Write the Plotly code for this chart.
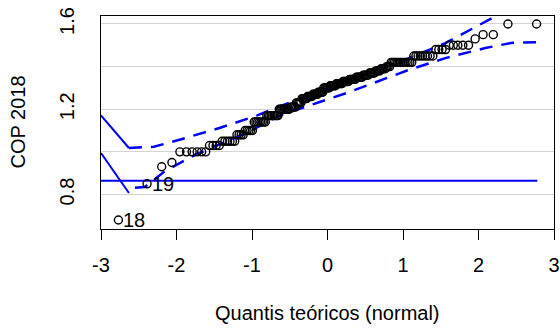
import plotly.graph_objects as go
from statistics import NormalDist

cop_2018 = (
    [0.68, 0.85, 0.93, 0.95]
    + [1.00] * 6 + [1.03] * 4 + [1.05] * 6 + [1.08] * 4 + [1.10] * 5
    + [1.14] * 8 + [1.17] * 9 + [1.20] * 9
    + [1.21] * 5 + [1.23] * 5 + [1.25] * 5
    + [1.26] * 5 + [1.27] * 5 + [1.28] * 5 + [1.30] * 6
    + [1.31] * 6 + [1.32] * 6 + [1.33] * 6 + [1.34] * 6 + [1.35] * 6
    + [1.36] * 5 + [1.37] * 5 + [1.38] * 4 + [1.39] * 4 + [1.40] * 3
    + [1.42] * 13 + [1.45] * 9 + [1.48] * 4 + [1.50] * 5
    + [1.53, 1.55, 1.55, 1.60, 1.60]
)

# Labelled observations (rank in sorted order, label)
outlier_ranks = [0, 1]
outlier_labels = ["18", "19"]

# Envelope (dashed)
env_upper_q = [-2.63, -2.30, -1.96, -1.43, -0.93, -0.60, 0.30, 1.08, 1.56, 2.09, 2.77]
env_upper_y = [1.018, 1.024, 1.057, 1.112, 1.171, 1.218, 1.335, 1.44, 1.51, 1.61, 1.74]
env_lower_q = [-2.55, -2.42, -2.16, -1.80, -1.50, -1.07, -0.64, 0.25, 1.08, 1.56, 2.09, 2.43, 2.77]
env_lower_y = [0.832, 0.835, 0.908, 0.978, 1.025, 1.088, 1.17, 1.276, 1.385, 1.44, 1.487, 1.511, 1.515]

# Solid segments
seg1_q = [-3.0, -2.63]
seg1_y = [1.171, 1.018]
seg2_q = [-3.0, -2.63]
seg2_y = [0.994, 0.807]
hline_q = [-3.0, 2.78]
hline_y = [0.864, 0.864]

x_ticks = [-3, -2, -1, 0, 1, 2, 3]
y_ticks = [0.8, 1.0, 1.2, 1.4, 1.6]
y_ticktext = ["0.8", "", "1.2", "", "1.6"]

n = len(cop_2018)
nd = NormalDist()
theo = [nd.inv_cdf((i + 0.5) / n) for i in range(n)]

FONT = "Liberation Sans, Arial, sans-serif"
BLUE = "#0000FF"
FS = 20

fig = go.Figure()
line_style = dict(color=BLUE, width=2)
for q, y in [(seg1_q, seg1_y), (seg2_q, seg2_y), (hline_q, hline_y)]:
    fig.add_trace(go.Scatter(x=q, y=y, mode="lines", line=line_style, hoverinfo="skip"))
for q, y in [(env_upper_q, env_upper_y), (env_lower_q, env_lower_y)]:
    fig.add_trace(go.Scatter(x=q, y=y, mode="lines",
                             line=dict(color=BLUE, width=2.5, dash="13px,9px"),
                             hoverinfo="skip"))
fig.add_trace(go.Scatter(
    x=theo, y=cop_2018, mode="markers",
    marker=dict(symbol="circle-open", size=8, color="black", line=dict(width=1.4, color="black")),
))

for r, lab in zip(outlier_ranks, outlier_labels):
    fig.add_annotation(x=theo[r], y=cop_2018[r], text=lab, showarrow=False,
                       xanchor="left", yanchor="middle", xshift=3,
                       font=dict(family=FONT, size=FS, color="black"))

fig.add_annotation(xref="paper", yref="paper", x=0.5, y=0, yanchor="middle",
                   yshift=-84, text="Quantis teóricos (normal)", showarrow=False,
                   font=dict(family=FONT, size=FS, color="black"))
fig.add_annotation(xref="paper", yref="paper", x=0, y=0.5, xanchor="center",
                   xshift=-84, textangle=-90, text="COP 2018", showarrow=False,
                   font=dict(family=FONT, size=FS, color="black"))

fig.update_layout(
    width=560, height=330,
    margin=dict(l=101, r=6, t=16, b=101, autoexpand=False),
    paper_bgcolor="white", plot_bgcolor="white",
    showlegend=False,
    font=dict(family=FONT, size=FS, color="black"),
)
fig.update_xaxes(range=[-3, 3], tickvals=x_ticks, ticktext=[str(v) for v in x_ticks],
                 showgrid=False, zeroline=False, showline=True, mirror=True,
                 linecolor="black", linewidth=1, ticks="outside", ticklen=10,
                 tickcolor="black", tickwidth=1, ticklabeloverflow="allow",
                 ticklabelstandoff=8,
                 automargin=False, tickfont=dict(family=FONT, size=FS))
fig.update_yaxes(range=[0.638, 1.6375], tickvals=y_ticks, ticktext=y_ticktext,
                 showgrid=True, gridcolor="#d3d3d3", gridwidth=1, zeroline=False,
                 showline=True, mirror=True, linecolor="black", linewidth=1,
                 ticks="", tickangle=-90, ticklabelstandoff=18, automargin=False,
                 tickfont=dict(family=FONT, size=FS))

fig.write_html("out.html")
